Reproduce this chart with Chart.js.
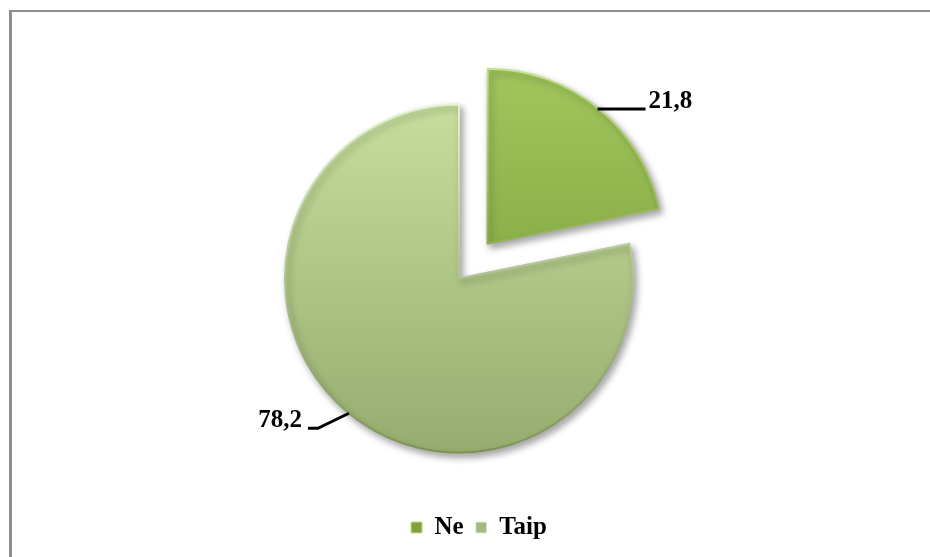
<!DOCTYPE html>
<html>
<head>
<meta charset="utf-8">
<script src="https://cdn.jsdelivr.net/npm/chart.js@4.4.1/dist/chart.umd.min.js"></script>
<style>
  html, body { margin: 0; padding: 0; background: #fff; }
  #wrap { position: relative; width: 930px; height: 557px; overflow: hidden; }
  #frame { position: absolute; left: 9px; top: 10px; right: 0; bottom: 0;
           border-top: 2px solid #8e8e8e; border-left: 3px solid #8e8e8e; }
  canvas { position: absolute; left: 0; top: 0; }
</style>
</head>
<body>
<div id="wrap">
  <div id="frame"></div>
  <canvas id="chart" width="930" height="557"></canvas>
</div>
<script>
const categories = ["Ne", "Taip"];
const values = [21.8, 78.2];

// styles
const topColors = ["#a0c65c", "#c6dd9c"];
const bottomColors = ["#789a37", "#97ad6f"];
const rimTop = ["#c4e08a", "#e4f1cc"];
const rimBottom = ["#5f7d29", "#7d9257"];
const legendFill = ["#7fa23d", "#a3b880"];
const explode = [180, 0]; // chart.js draws arc offset / 4
const leaders = [
  { dx: 0, dy: 0, run: 48 },
  { dx: -31, dy: 15, run: -10 },
];
const labelFont = "bold 25px 'Liberation Serif', 'Times New Roman', serif";

const fmt = v => v.toFixed(1).replace(".", ",");

function vGradient(chart, i, from, to) {
  const area = chart.chartArea;
  if (!area) return from[i];
  const r = chart.getDatasetMeta(0).controller.outerRadius || 174;
  const cy = (area.top + area.bottom) / 2;
  const g = chart.ctx.createLinearGradient(0, cy - r, 0, cy + r);
  g.addColorStop(0, from[i]);
  g.addColorStop(1, to[i]);
  return g;
}

const pieShadow = {
  id: "pieShadow",
  beforeDatasetsDraw(chart) {
    const c = chart.ctx;
    c.save();
    c.shadowColor = "rgba(0,0,0,0.35)";
    c.shadowBlur = 7;
    c.shadowOffsetX = 3;
    c.shadowOffsetY = 4;
  },
  afterDatasetsDraw(chart) {
    chart.ctx.restore();
  },
};

const legendShift = {
  id: "legendShift",
  afterLayout(chart) {
    chart.legend.left += 20;
    chart.legend.right += 20;
  },
};

const valueLabels = {
  id: "valueLabels",
  afterDraw(chart) {
    const ctx = chart.ctx;
    chart.getDatasetMeta(0).data.forEach((arc, i) => {
      const p = arc.getProps(["x", "y", "startAngle", "endAngle", "outerRadius"], true);
      const mid = (p.startAngle + p.endAngle) / 2;
      const d = explode[i] / 4 + p.outerRadius;
      const ex = p.x + Math.cos(mid) * d;
      const ey = p.y + Math.sin(mid) * d;
      const l = leaders[i];
      const bx = ex + l.dx, by = ey + l.dy;
      const tx = bx + l.run;
      ctx.save();
      ctx.strokeStyle = "#000";
      ctx.lineWidth = 3;
      ctx.beginPath();
      ctx.moveTo(ex, ey);
      ctx.lineTo(bx, by);
      ctx.lineTo(tx, by);
      ctx.stroke();
      ctx.font = labelFont;
      ctx.fillStyle = "#000";
      ctx.textBaseline = "alphabetic";
      ctx.textAlign = l.run > 0 ? "left" : "right";
      ctx.fillText(fmt(values[i]), tx + (l.run > 0 ? 3 : -6), by - 1);
      ctx.restore();
    });
  },
};

new Chart(document.getElementById("chart"), {
  type: "pie",
  data: {
    labels: categories,
    datasets: [{
      data: values,
      offset: explode,
      backgroundColor: c => vGradient(c.chart, c.dataIndex, topColors, bottomColors),
      borderColor: c => vGradient(c.chart, c.dataIndex, rimTop, rimBottom),
      borderWidth: 2,
      hoverOffset: 0,
    }],
  },
  options: {
    responsive: false,
    animation: false,
    radius: 174,
    layout: { padding: { top: 54, bottom: 7, left: 0, right: 12 } },
    plugins: {
      tooltip: { enabled: false },
      legend: {
        position: "bottom",
        labels: {
          boxWidth: 11,
          boxHeight: 11,
          padding: 12,
          color: "#000",
          font: { family: "'Liberation Serif', 'Times New Roman', serif", size: 25, weight: "bold" },
          generateLabels(chart) {
            const items = Chart.overrides.pie.plugins.legend.labels.generateLabels(chart);
            items.forEach((it, i) => {
              it.fillStyle = legendFill[i];
              it.strokeStyle = rimTop[i];
              it.lineWidth = 1;
            });
            return items;
          },
        },
      },
    },
  },
  plugins: [pieShadow, legendShift, valueLabels],
});
</script>
</body>
</html>
